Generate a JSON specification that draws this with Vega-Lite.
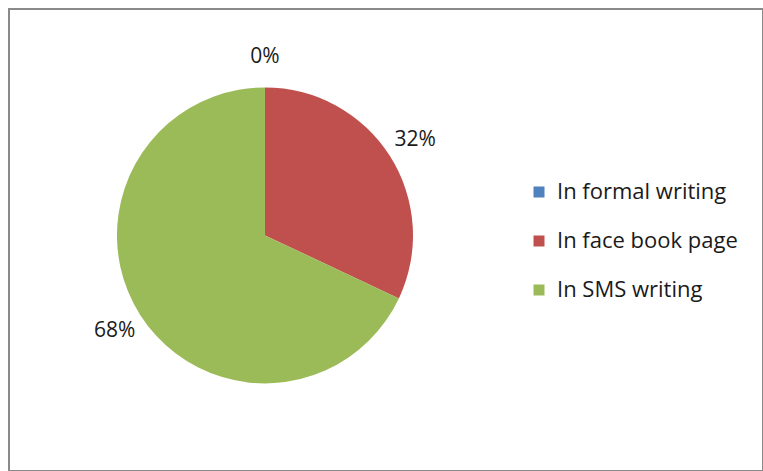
{
  "$schema": "https://vega.github.io/schema/vega-lite/v6.json",
  "autosize": {"type": "fit", "contains": "padding"},
  "width": 763,
  "height": 471,
  "padding": {"left": 9, "top": 9, "right": 0, "bottom": 0},
  "background": "white",
  "config": {
    "view": {"stroke": "#8a8a8a", "strokeWidth": 2},
    "font": "Open Sans"
  },
  "data": {
    "values": [
      {"category": "In formal writing", "value": 0, "label": "0%"},
      {"category": "In face book page", "value": 32, "label": "32%"},
      {"category": "In SMS writing", "value": 68, "label": "68%"}
    ]
  },
  "encoding": {
    "theta": {"field": "value", "type": "quantitative", "stack": true},
    "order": {"field": "value", "type": "quantitative", "sort": "ascending"},
    "x": {"datum": 0.3395, "type": "quantitative", "scale": {"domain": [0, 1]}, "axis": null},
    "y": {"datum": 0.51, "type": "quantitative", "scale": {"domain": [0, 1]}, "axis": null}
  },
  "layer": [
    {
      "mark": {"type": "arc", "outerRadius": 148, "stroke": null},
      "encoding": {
        "color": {
          "field": "category",
          "type": "nominal",
          "sort": ["In formal writing", "In face book page", "In SMS writing"],
          "scale": {
            "domain": ["In formal writing", "In face book page", "In SMS writing"],
            "range": ["#4F81BD", "#C0504D", "#9BBB59"]
          },
          "legend": {
            "orient": "none",
            "legendX": 519,
            "legendY": 172,
            "title": null,
            "symbolType": "square",
            "symbolSize": 121,
            "symbolStrokeWidth": 0,
            "labelFont": "Open Sans",
            "labelFontSize": 22,
            "labelLimit": 0,
            "labelColor": "#1a1a1a",
            "labelOffset": 7,
            "rowPadding": 27
          }
        }
      }
    },
    {
      "mark": {"type": "text", "radius": 178, "font": "Open Sans", "fontSize": 21, "color": "#1a1a1a"},
      "encoding": {
        "text": {"field": "label", "type": "nominal"}
      }
    }
  ]
}
